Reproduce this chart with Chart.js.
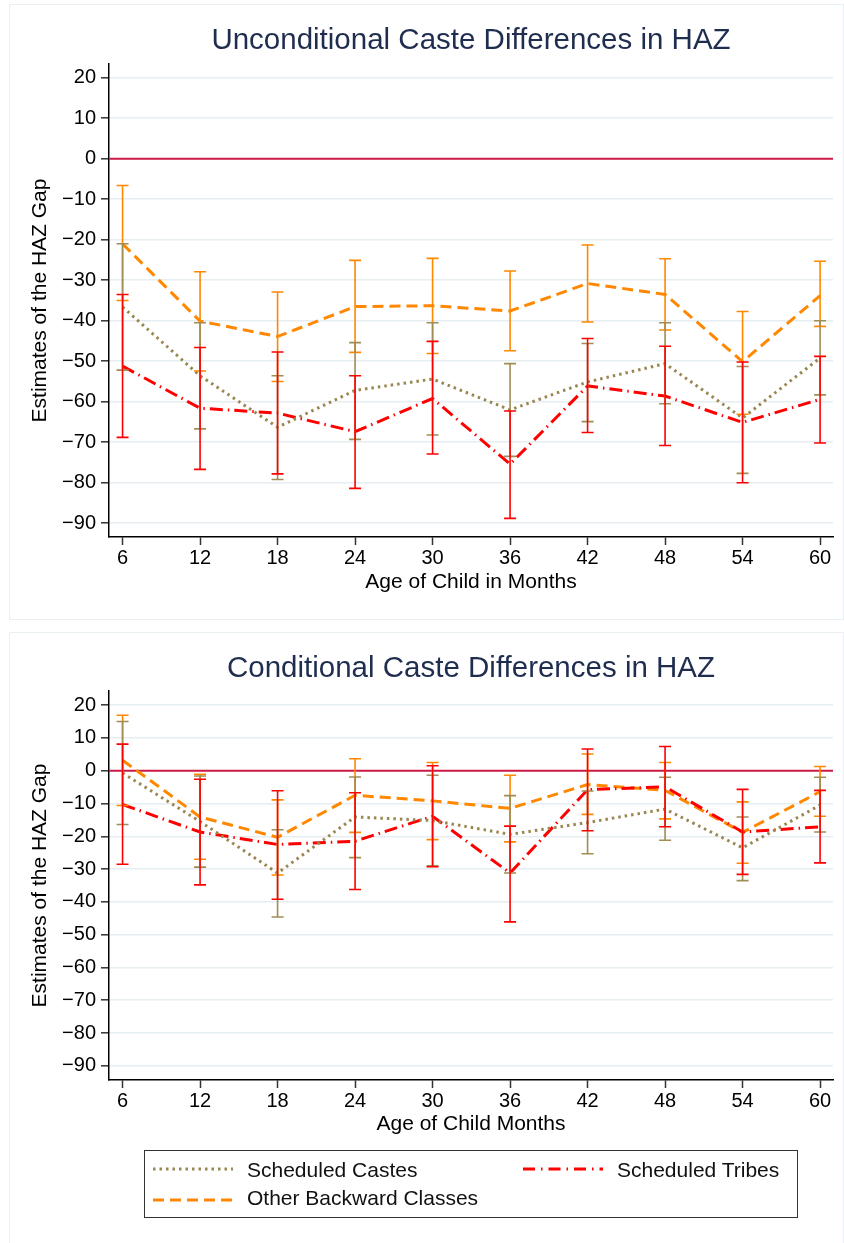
<!DOCTYPE html>
<html><head><meta charset="utf-8">
<script src="https://cdn.jsdelivr.net/npm/chart.js@4.4.1/dist/chart.umd.min.js"></script>
<style>
html,body{margin:0;padding:0;background:#fff;width:844px;height:1243px;overflow:hidden;position:relative;font-family:'Liberation Sans',Arial,sans-serif;}
.panel{position:absolute;border:1.5px solid #e9f0f3;box-sizing:border-box;background:#fff;}
#p1{left:9px;top:4px;width:835px;height:616px;}
#p2{left:9px;top:632px;width:835px;height:620px;}
#legend{position:absolute;left:144px;top:1150px;width:654px;height:68px;border:1.5px solid #333;box-sizing:border-box;}
.lt{position:absolute;font-size:21px;line-height:24px;color:#111;white-space:nowrap;}
#lsvg{position:absolute;left:0;top:0;}
</style></head>
<body>
<div class="panel" id="p1"></div>
<div class="panel" id="p2"></div>
<div style="position:absolute;left:0;top:0;width:844px;height:600px;"><canvas id="c1"></canvas></div>
<div style="position:absolute;left:0;top:627px;width:844px;height:520px;"><canvas id="c2"></canvas></div>
<div id="legend"></div>
<svg id="lsvg" width="844" height="1243">
  <line x1="153" y1="1169" x2="233" y2="1169" stroke="#998650" stroke-width="3" stroke-dasharray="2.5 4"/>
  <line x1="523" y1="1169" x2="603" y2="1169" stroke="#ff0000" stroke-width="3" stroke-dasharray="12 6 1.5 6"/>
  <line x1="153" y1="1200" x2="233" y2="1200" stroke="#ff8800" stroke-width="3" stroke-dasharray="11 6"/>
</svg>
<div class="lt" style="left:247px;top:1158px;">Scheduled Castes</div>
<div class="lt" style="left:617px;top:1158px;">Scheduled Tribes</div>
<div class="lt" style="left:247px;top:1186px;">Other Backward Classes</div>
<script>
// ---- categories / ticks ----
const ages = [6, 12, 18, 24, 30, 36, 42, 48, 54, 60];
const xTickLabels = ['6','12','18','24','30','36','42','48','54','60'];
const yTickValues = [20, 10, 0, -10, -20, -30, -40, -50, -60, -70, -80, -90];
const yTickLabels = ['20','10','0','\u221210','\u221220','\u221230','\u221240','\u221250','\u221260','\u221270','\u221280','\u221290'];
const refLine = 0;
const seriesNames = ['Scheduled Castes', 'Scheduled Tribes', 'Other Backward Classes'];

// ---- Unconditional ----
const uncSC   = [-36.6, -53.6, -66.3, -57.2, -54.4, -62.0, -55.1, -50.6, -64.0, -49.2];
const uncSClo = [-52.2, -66.7, -79.2, -69.3, -68.2, -73.5, -64.9, -60.5, -77.7, -58.3];
const uncSChi = [-21.0, -40.5, -53.6, -45.4, -40.5, -50.6, -45.6, -40.5, -51.3, -40.0];
const uncST   = [-51.2, -61.6, -62.8, -67.4, -59.2, -75.4, -56.1, -58.6, -65.1, -59.4];
const uncSTlo = [-68.8, -76.7, -77.8, -81.4, -72.9, -88.8, -67.6, -70.8, -80.0, -70.2];
const uncSThi = [-33.5, -46.6, -47.7, -53.6, -45.1, -62.3, -44.4, -46.3, -50.2, -48.8];
const uncOBC   = [-21.0, -40.1, -43.9, -36.5, -36.3, -37.6, -30.8, -33.5, -50.1, -33.8];
const uncOBClo = [-35.0, -52.4, -55.0, -47.8, -48.1, -47.4, -40.3, -42.3, -63.1, -41.4];
const uncOBChi = [-6.6, -27.9, -32.9, -25.1, -24.6, -27.7, -21.3, -24.7, -37.7, -25.3];

// ---- Conditional ----
const conSC   = [-0.7, -15.5, -31.2, -14.1, -15.2, -19.4, -15.8, -11.7, -23.5, -10.5];
const conSClo = [-16.4, -29.4, -44.6, -26.5, -29.0, -31.2, -25.3, -21.2, -33.5, -18.7];
const conSChi = [15.0, -1.6, -18.0, -1.9, -1.4, -7.6, -6.2, -2.0, -14.1, -2.0];
const conST   = [-10.3, -18.7, -22.5, -21.5, -13.9, -31.2, -5.8, -4.9, -18.7, -17.1];
const conSTlo = [-28.5, -34.8, -39.2, -36.2, -29.3, -46.1, -18.3, -17.1, -31.6, -28.1];
const conSThi = [8.1, -2.6, -6.1, -6.7, 1.5, -16.9, 6.6, 7.4, -5.7, -6.0];
const conOBC   = [3.2, -14.1, -20.3, -7.5, -9.2, -11.5, -4.2, -6.0, -18.8, -6.4];
const conOBClo = [-10.6, -27.0, -31.8, -18.8, -21.0, -21.7, -13.3, -14.7, -28.2, -13.9];
const conOBChi = [16.9, -1.1, -8.9, 3.65, 2.5, -1.4, 5.1, 2.5, -9.5, 1.3];

// ---- styles ----
const FONT = "'Liberation Sans', Arial, sans-serif";
const colSC = '#998650', colST = '#ff0000', colOBC = '#ff8800';
const capColSC = '#a08c55';

const errorBars = {
  id: 'errorBars',
  afterDatasetsDraw(chart, args, opts) {
    const {ctx} = chart;
    const xs = chart.scales.x, ys = chart.scales.y;
    ctx.save();
    ctx.lineCap = 'butt';
    opts.series.forEach(s => {
      ctx.strokeStyle = s.color;
      ctx.lineWidth = 1.6;
      ages.forEach((a, i) => {
        const px = xs.getPixelForValue(a);
        const y1 = ys.getPixelForValue(s.lo[i]);
        const y2 = ys.getPixelForValue(s.hi[i]);
        ctx.beginPath();
        ctx.moveTo(px, y1); ctx.lineTo(px, y2);
        ctx.moveTo(px - 6, y1); ctx.lineTo(px + 6, y1);
        ctx.moveTo(px - 6, y2); ctx.lineTo(px + 6, y2);
        ctx.stroke();
      });
    });
    ctx.restore();
  }
};

const zeroLine = {
  id: 'zeroLine',
  beforeDatasetsDraw(chart, args, opts) {
    const {ctx, chartArea} = chart;
    const py = chart.scales.y.getPixelForValue(opts.value);
    ctx.save();
    ctx.strokeStyle = '#cc1a48';
    ctx.lineWidth = 2;
    ctx.beginPath();
    ctx.moveTo(chartArea.left, py);
    ctx.lineTo(chartArea.right, py);
    ctx.stroke();
    ctx.restore();
  }
};

function pts(vals) { return ages.map((a, i) => ({x: a, y: vals[i]})); }

function makeChart(id, o) {
  return new Chart(document.getElementById(id), {
    type: 'line',
    data: {
      datasets: [
        {label: seriesNames[0], data: pts(o.sc), borderColor: colSC, borderWidth: 3, borderDash: [2.5, 4], pointRadius: 0, tension: 0, fill: false},
        {label: seriesNames[1], data: pts(o.st), borderColor: colST, borderWidth: 3, borderDash: [13, 5, 1.5, 5], pointRadius: 0, tension: 0, fill: false},
        {label: seriesNames[2], data: pts(o.obc), borderColor: colOBC, borderWidth: 3, borderDash: [11, 6], pointRadius: 0, tension: 0, fill: false}
      ]
    },
    options: {
      responsive: true,
      maintainAspectRatio: false,
      animation: false,
      layout: {padding: {left: 0, right: 11, top: 0, bottom: 0}},
      plugins: {
        legend: {display: false},
        tooltip: {enabled: false},
        title: {
          display: true, text: o.title, fullSize: false,
          color: '#1f2d4f',
          font: {family: FONT, size: 29.5, weight: 'normal', lineHeight: 1.2},
          padding: {top: o.tPadTop, bottom: o.tPadBottom}
        },
        errorBars: {series: [
          {lo: o.obcLo, hi: o.obcHi, color: colOBC},
          {lo: o.scLo, hi: o.scHi, color: capColSC},
          {lo: o.stLo, hi: o.stHi, color: colST}
        ]},
        zeroLine: {value: refLine}
      },
      scales: {
        x: {
          type: 'linear', min: 4.95, max: 61,
          afterBuildTicks: s => { s.ticks = ages.map(v => ({value: v})); },
          afterFit: s => { s.height = o.xAxisH; },
          ticks: {
            autoSkip: false, maxRotation: 0, padding: 1, color: '#000',
            font: {family: FONT, size: 20},
            callback: v => xTickLabels[ages.indexOf(v)]
          },
          grid: {drawOnChartArea: false, drawTicks: true, tickLength: 8, tickColor: '#333', tickWidth: 1.5},
          border: {display: true, color: '#000', width: 1.5},
          title: {display: true, text: o.xTitle, color: '#000', font: {family: FONT, size: 21, lineHeight: 1.2}, padding: {top: 0, bottom: o.xTitlePad}}
        },
        y: {
          type: 'linear', min: o.yMin, max: o.yMax,
          afterBuildTicks: s => { s.ticks = yTickValues.map(v => ({value: v})); },
          afterFit: s => { s.width = 109; },
          ticks: {
            padding: 5, color: '#000',
            font: {family: FONT, size: 20},
            callback: v => yTickLabels[yTickValues.indexOf(v)]
          },
          grid: {color: '#e6eef1', lineWidth: 1.6, drawTicks: true, tickLength: 8, tickColor: '#333', tickWidth: 1.5},
          border: {display: true, color: '#000', width: 1.5},
          title: {display: true, text: 'Estimates of the HAZ Gap', color: '#000', font: {family: FONT, size: 21, lineHeight: 1.2}, padding: {top: 27.4, bottom: 0}}
        }
      }
    },
    plugins: [errorBars, zeroLine]
  });
}

makeChart('c1', {
  title: 'Unconditional Caste Differences in HAZ',
  xTitle: 'Age of Child in Months',
  yMin: -93.4, yMax: 23.4,
  tPadTop: 23.1, tPadBottom: 5.5,
  xAxisH: 63, xTitlePad: 5.4,
  sc: uncSC, scLo: uncSClo, scHi: uncSChi,
  st: uncST, stLo: uncSTlo, stHi: uncSThi,
  obc: uncOBC, obcLo: uncOBClo, obcHi: uncOBChi
});

makeChart('c2', {
  title: 'Conditional Caste Differences in HAZ',
  xTitle: 'Age of Child Months',
  yMin: -94.3, yMax: 24.3,
  tPadTop: 24.1, tPadBottom: 4.5,
  xAxisH: 67, xTitlePad: 9.7,
  sc: conSC, scLo: conSClo, scHi: conSChi,
  st: conST, stLo: conSTlo, stHi: conSThi,
  obc: conOBC, obcLo: conOBClo, obcHi: conOBChi
});
</script>
</body></html>
